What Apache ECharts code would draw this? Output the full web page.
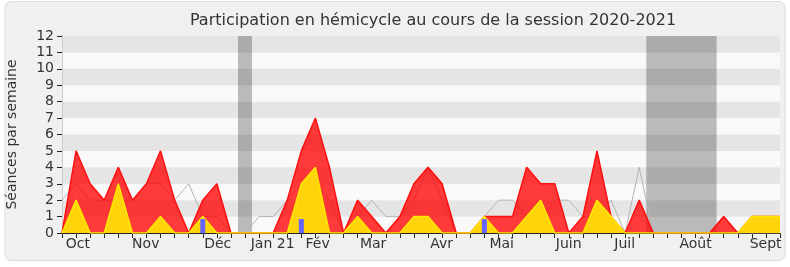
<!DOCTYPE html>
<html>
<head>
<meta charset="utf-8">
<script src="https://cdn.jsdelivr.net/npm/echarts@6/dist/echarts.min.js"></script>
<style>
html,body{margin:0;padding:0;background:#ffffff;}
#chart{width:790px;height:267px;}
</style>
</head>
<body>
<div id="chart"></div>
<script>
// Week index 0..51 (session 2020-2021)
const weekCount = 52;
// Total séances per week (red)
const redValues = [0,5,3,2,4,2,3,5,2,0,2,3,0,0,0,0,2,5,7,4,0,2,1,0,1,3,4,3,0,0,1,1,1,4,3,3,0,1,5,1,0,2,0,0,0,0,0,1,0,1,1,1];
// Interventions / présence (yellow)
const yellowValues = [0,2,0,0,3,0,0,1,0,0,1,0,0,0,0,0,0,3,4,0,0,1,0,0,0,1,1,0,0,0,1,0,0,1,2,0,0,0,2,1,0,0,0,0,0,0,0,0,0,1,1,1];
// Médiane (grey line)
const greyValues = [2,3,2,2,2,2,3,3,2,3,1,1,0,0,1,1,2,3,3,2,0,1,2,1,1,2,4,2,0,0,1,2,2,1,1,2,2,1,1,2,0,4,0,0,0,0,0,0,0,0,0,0];
// Blue bars
const blueWeeks = [10,17,30];
const blueValues = [0.85,0.85,0.85];
// Vacation periods (in week units)
const vacations = [[12.5,13.5],[41.5,46.5]];
// Month tick labels
const monthNames = ['Oct','Nov','Déc','Jan 21','Fév','Mar','Avr','Mai','Juin','Juil','Août','Sept'];
const monthPos = [1.12,5.95,11.06,14.96,18.16,22.1,26.96,31.23,35.99,39.97,45.0,49.98];
const yTicks = [0,1,2,3,4,5,6,7,8,9,10,11,12];

const pairs = arr => arr.map((v,i)=>[i,v]);
const FONT = 'DejaVu Sans';

const chart = echarts.init(document.getElementById('chart'), null, {renderer:'canvas'});
chart.setOption({
  animation:false,
  backgroundColor:'transparent',
  textStyle:{fontFamily:FONT},
  graphic:[{
    type:'rect', z:-100, silent:true,
    shape:{x:5,y:1.5,width:780,height:259,r:6},
    style:{fill:'#f0f0f0',stroke:'#dcdcdc',lineWidth:1}
  }],
  title:{
    text:'Participation en hémicycle au cours de la session 2020-2021',
    left:428, top:8, textAlign:'center',
    textStyle:{fontFamily:FONT,fontSize:16,fontWeight:'normal',color:'#333'}
  },
  grid:{left:62,right:10,top:36,bottom:34,containLabel:false,outerBoundsMode:'none'},
  xAxis:[{
    type:'value', min:0, max:weekCount-1, interval:1,
    axisLine:{show:true,lineStyle:{color:'#222',width:1}},
    axisTick:{show:true,length:5,lineStyle:{color:'#222'}},
    axisLabel:{
      customValues:monthPos,
      formatter:function(v){
        let best=0,bd=1e9;
        monthPos.forEach((p,k)=>{const d=Math.abs(p-v); if(d<bd){bd=d;best=k;}});
        return monthNames[best];
      },
      fontFamily:FONT,fontSize:14,color:'#333',margin:4
    },
    splitLine:{show:false}
  },{
    type:'value', position:'top', min:0, max:weekCount-1, interval:1,
    axisLine:{show:false},
    axisTick:{show:true,inside:true,length:1.5,lineStyle:{color:'#444'}},
    axisLabel:{show:false},
    splitLine:{show:false}
  }],
  yAxis:[{
    type:'value', min:0, max:12, interval:1,
    name:'Séances par semaine', nameLocation:'middle', nameGap:43,
    nameTextStyle:{fontFamily:FONT,fontSize:14,color:'#333'},
    axisLine:{show:true,lineStyle:{color:'#222'}},
    axisTick:{show:true,length:5,lineStyle:{color:'#222'}},
    axisLabel:{fontFamily:FONT,fontSize:14,color:'#333',margin:8,
      formatter:v=>yTicks.indexOf(v)>=0?String(v):''},
    splitLine:{show:false},
    splitArea:{show:true,areaStyle:{color:['#f9f9f9','#e5e5e5']}}
  },{
    type:'value', position:'right', min:0, max:12, interval:1,
    axisLine:{show:true,lineStyle:{color:'#cccccc'}},
    axisTick:{show:false}, axisLabel:{show:false},
    splitLine:{show:false}, splitArea:{show:false}
  }],
  series:[
    {
      type:'line', z:1, data:[], silent:true,
      markArea:{silent:true,itemStyle:{color:'#000000',opacity:0.25},
        data:vacations.map(v=>[{xAxis:v[0]},{xAxis:v[1]}])}
    },
    {
      name:'grey', type:'line', z:2, data:pairs(greyValues), symbol:'none',
      lineStyle:{color:'#b4b4b4',width:1}
    },
    {
      name:'red', type:'line', z:3, data:pairs(redValues), symbol:'none',
      lineStyle:{color:'#ff1010',width:1.5},
      areaStyle:{color:'#ff0000',opacity:0.77,origin:'start'}
    },
    {
      name:'yellow', type:'line', z:4, data:pairs(yellowValues), symbol:'none',
      lineStyle:{color:'#ffe800',width:1.5},
      areaStyle:{color:'#ffd40a',opacity:1,origin:'start'}
    },
    {
      name:'blue', type:'bar', z:5, barWidth:5,
      data:blueWeeks.map((w,k)=>[w,blueValues[k]]),
      itemStyle:{color:'#6464ff'}
    }
  ]
});
</script>
</body>
</html>
